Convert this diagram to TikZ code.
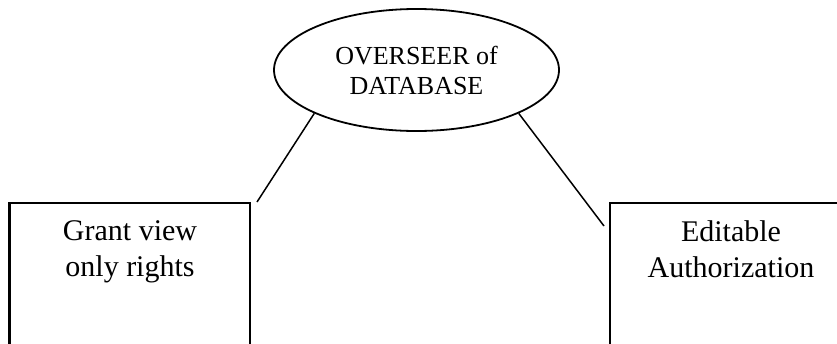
\documentclass[tikz,border=0pt]{standalone}
\usepackage{fontspec}
\setmainfont{Liberation Serif}
\usetikzlibrary{shapes.geometric}
\tikzset{
  boxshape/.style={draw, line width=2.2pt, rectangle, inner sep=0pt},
  ovalshape/.style={draw, line width=1.8pt, ellipse, inner sep=0pt,
     minimum width=285pt, minimum height=122pt, align=center,
     font=\fontsize{26}{30}\selectfont},
  boxtext/.style={align=center, inner sep=0pt, anchor=north,
     font=\fontsize{30}{36}\selectfont},
  link/.style={line width=1.5pt}
}
\begin{document}
\begin{tikzpicture}[x=1pt, y=-1pt]
\useasboundingbox (0,0) rectangle (837,343);
\clip (0,0) rectangle (837,343);
\node[ovalshape] (over) at (416.5,70) {OVERSEER of\\DATABASE};
\node[boxshape, minimum width=240.5pt, minimum height=177pt] (grantbox) at (129.75,291.5) {};
\node[boxshape, minimum width=240pt, minimum height=177pt] (editbox) at (730,291.5) {};
\node[boxtext] (granttext) at (130,220) {Grant view\\only rights};
\node[boxtext] (edittext) at (731,220) {Editable\\Authorization};
\coordinate (gend) at (257,202);
\coordinate (eend) at (604,226);
\draw[link] (over.203.4) -- (gend);
\draw[link] (over.337.9) -- (eend);
\end{tikzpicture}
\end{document}
